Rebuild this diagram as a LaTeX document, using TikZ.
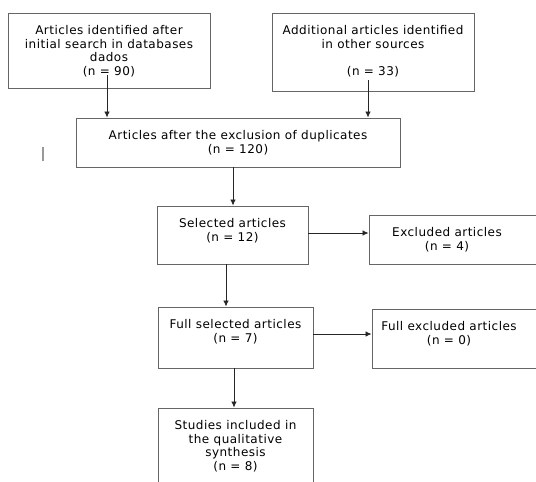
\documentclass[tikz,border=0pt]{standalone}
\usepackage{fontspec}
\setmainfont{DejaVu Sans}[LetterSpace=4]
\usetikzlibrary{arrows.meta}

\begin{document}
\begin{tikzpicture}[x=1pt, y=-1pt,
  box/.style={rectangle, draw=black!60, line width=0.9pt, fill=white, inner sep=0pt},
  boxtext/.style={anchor=north, align=center, inner sep=0pt, yshift=-12.5pt,
    font=\fontsize{12}{13.8}\selectfont},
  arr/.style={draw=black!85, line width=0.8pt, -{Latex[length=6pt,width=5.5pt]}}]
  \useasboundingbox (0,0) rectangle (536,482);
  \clip (0,0) rectangle (536,482);
  % top boxes
  \node[box, minimum width=202pt, minimum height=75pt,
    label={[boxtext]north:Articles identified after\\initial search in databases\\dados\\(n = 90)}] (ident) at (109,50.5) {};
  \node[box, minimum width=202pt, minimum height=78pt,
    label={[boxtext]north:Additional articles identified\\in other sources\\ ~\\(n = 33)}] (other) at (373,52) {};
  \node[box, minimum width=324pt, minimum height=49pt,
    label={[boxtext]north:Articles after the exclusion of duplicates\\(n = 120)}] (dupl) at (238,142.5) {};
  % screening
  \node[box, minimum width=151pt, minimum height=58pt,
    label={[boxtext]north:Selected articles\\(n = 12)}] (sel) at (232.5,235) {};
  \node[box, minimum width=176pt, minimum height=49pt,
    label={[boxtext, xshift=-10pt]north:Excluded articles\\(n = 4)}] (excl) at (457,239.5) {};
  % eligibility
  \node[box, minimum width=155pt, minimum height=61pt,
    label={[boxtext]north:Full selected articles\\(n = 7)}] (full) at (235.5,337.5) {};
  \node[box, minimum width=173pt, minimum height=59pt,
    label={[boxtext, xshift=-9.5pt]north:Full excluded articles\\(n = 0)}] (fullexcl) at (458.5,338.5) {};
  % included
  \node[box, minimum width=155pt, minimum height=84pt,
    label={[boxtext]north:Studies included in\\the qualitative\\synthesis\\(n = 8)}] (incl) at (235.5,450) {};
  % connectors
  \coordinate (identout) at (107,75);
  \coordinate (otherout) at (368,80);
  \draw[arr] (identout) -- (identout |- dupl.north);
  \draw[arr] (otherout) -- (otherout |- dupl.north);
  \draw[arr] ([xshift=-5pt]dupl.south) -- ([xshift=-5pt]dupl.south |- sel.north);
  \draw[arr] ([yshift=2pt]sel.east) -- ([yshift=2pt]sel.east -| excl.west);
  \draw[arr] ([xshift=-6.5pt]sel.south) -- ([xshift=-6.5pt]sel.south |- full.north);
  \draw[arr] ([yshift=3.5pt]full.east) -- ([yshift=3.5pt]full.east -| fullexcl.west);
  \draw[arr] ([xshift=-1.5pt]full.south) -- ([xshift=-1.5pt]full.south |- incl.north);
  % stray mark
  \draw[black!40, line width=1.5pt] (43,147) -- (43,161);
\end{tikzpicture}
\end{document}
